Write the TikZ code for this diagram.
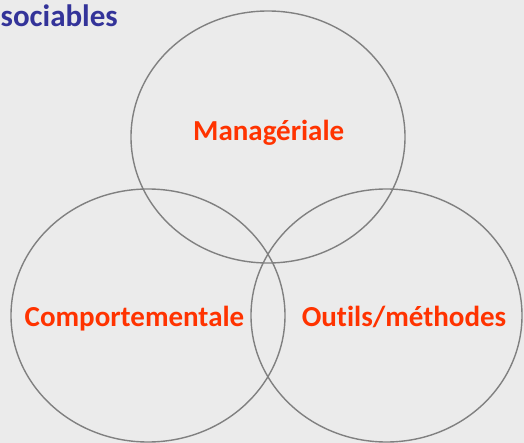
\documentclass[tikz,border=0pt]{standalone}
\usepackage{fontspec}
\setmainfont[Ligatures=NoCommon]{Carlito}
\usepackage{tikz}

\definecolor{bgcolor}{HTML}{EBEBEB}
\definecolor{ringcolor}{HTML}{808080}
\definecolor{labelcolor}{HTML}{FF3300}
\definecolor{titlecolor}{HTML}{333399}

\tikzset{
	ring/.style={draw=ringcolor, line width=1.4pt},
	setlabel/.style={text=labelcolor, font=\fontsize{29}{34}\selectfont\bfseries, inner sep=0pt, anchor=base},
}

\begin{document}
\begin{tikzpicture}[x=1pt,y=-1pt]
	\fill[bgcolor] (0,0) rectangle (524,443);
	\useasboundingbox (0,0) rectangle (524,443);
	
	\draw[ring] (268,137) ellipse [x radius=137, y radius=126];
	\draw[ring] (148,315.5) ellipse [x radius=137, y radius=126.5];
	\draw[ring] (386.5,315.5) ellipse [x radius=135.5, y radius=126.5];
	
	\node[setlabel] (manag) at (268.7,141) {Managériale};
	\node[setlabel] (compo) at (134.5,326) {Comportementale};
	\node[setlabel] (outils) at (404,326) {Outils/méthodes};
	
	\node[text=titlecolor, font=\fontsize{31}{36}\selectfont\bfseries, inner sep=0pt, anchor=base east] (soc) at (118,27) {sociables};
	
\end{tikzpicture}
\end{document}
